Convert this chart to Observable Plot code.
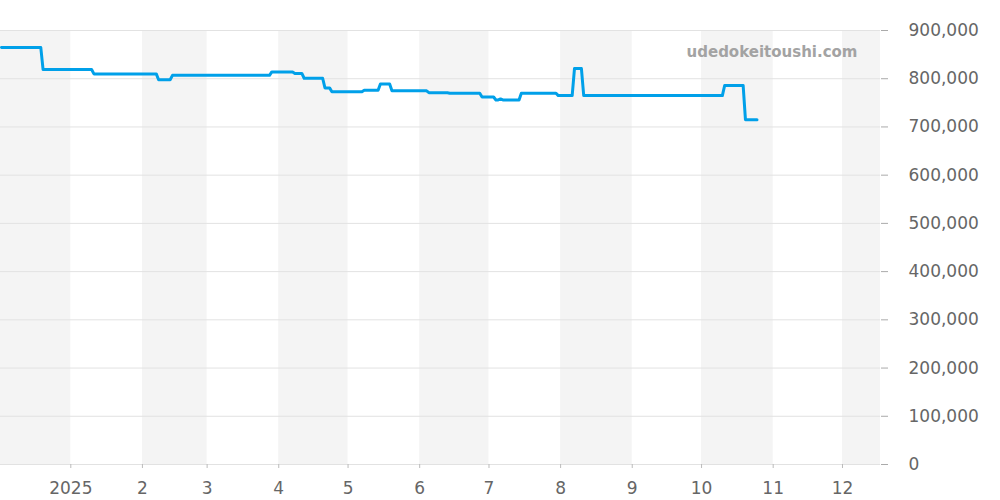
<!DOCTYPE html>
<html>
<head>
<meta charset="utf-8">
<script src="https://cdn.jsdelivr.net/npm/d3@7"></script>
<script src="https://cdn.jsdelivr.net/npm/@observablehq/plot@0.6"></script>
<style>
  html, body { margin: 0; padding: 0; background: #fff; }
  #chart { width: 1000px; height: 500px; }
</style>
</head>
<body>
<div id="chart"></div>
<script>
// ---- data ----
const dates = [
  "2024-12-02","2024-12-19","2024-12-20","2025-01-10","2025-01-11","2025-02-07",
  "2025-02-08","2025-02-13","2025-02-14","2025-03-28","2025-03-29","2025-04-07",
  "2025-04-08","2025-04-11","2025-04-12","2025-04-20","2025-04-21","2025-04-23",
  "2025-04-24","2025-05-07","2025-05-08","2025-05-14","2025-05-15","2025-05-19",
  "2025-05-20","2025-06-04","2025-06-05","2025-06-13","2025-06-14","2025-06-27",
  "2025-06-28","2025-07-03","2025-07-04","2025-07-05","2025-07-06","2025-07-07",
  "2025-07-14","2025-07-15","2025-07-30","2025-07-31","2025-08-06","2025-08-07",
  "2025-08-10","2025-08-11","2025-10-10","2025-10-11","2025-10-19","2025-10-20",
  "2025-10-25"
];
const prices = [
  865000,865000,819000,819000,810000,810000,
  798000,798000,807000,807000,814000,814000,
  811000,811000,801000,801000,781000,781000,
  773000,773000,776000,776000,789000,789000,
  775000,775000,771000,771000,770000,770000,
  762000,762000,756000,756000,758000,756000,
  756000,770000,770000,765000,765000,821000,
  821000,765000,765000,786000,786000,715000,
  715000
];
const shadeStarts = ["2024-12-01","2025-02-01","2025-04-01","2025-06-01","2025-08-01","2025-10-01","2025-12-01"];
const shadeEnds   = ["2025-01-01","2025-03-01","2025-05-01","2025-07-01","2025-09-01","2025-11-01","2026-01-01"];
const xTickDates = ["2025-01-01","2025-02-01","2025-03-01","2025-04-01","2025-05-01","2025-06-01",
                    "2025-07-01","2025-08-01","2025-09-01","2025-10-01","2025-11-01","2025-12-01"];
const xTickLabels = ["2025","2","3","4","5","6","7","8","9","10","11","12"];
const yTicks = [0,100000,200000,300000,400000,500000,600000,700000,800000,900000];
const xDomain = ["2024-12-01T13:40:00Z","2025-12-17T10:50:00Z"];
const watermark = "udedokeitoushi.com";

// ---- build ----
const series = dates.map((d, i) => ({date: new Date(d + "T00:00:00Z"), price: prices[i]}));
const bands = shadeStarts.map((s, i) => ({x1: new Date(s + "T00:00:00Z"), x2: new Date(shadeEnds[i] + "T00:00:00Z")}));
const xt = xTickDates.map(d => new Date(d + "T00:00:00Z"));
const labelOf = new Map(xt.map((d, i) => [+d, xTickLabels[i]]));

const chart = Plot.plot({
  width: 1000,
  height: 500,
  marginLeft: 0,
  marginRight: 120,
  marginTop: 30,
  marginBottom: 36,
  style: {fontFamily: "'DejaVu Sans', sans-serif", fontSize: "17px", background: "#fff", overflow: "visible"},
  x: {type: "utc", domain: xDomain.map(d => new Date(d))},
  y: {domain: [0, 900000]},
  marks: [
    Plot.rect(bands, {x1: "x1", x2: "x2", fill: "#f4f4f4", clip: true}),
    Plot.ruleY(yTicks, {stroke: "#e2e2e2", strokeWidth: 1}),
    Plot.axisY(yTicks, {anchor: "right", tickSize: 7, tickPadding: 21, tickFormat: d3.format(","),
      stroke: "#aaa", fill: "#666", fontSize: 17, line: true, label: null}),
    Plot.axisX(xt, {anchor: "bottom", tickSize: 4, tickPadding: 13, tickFormat: d => labelOf.get(+d),
      stroke: "#bbb", fill: "#666", fontSize: 17, line: true, label: null}),
    Plot.line(series, {x: "date", y: "price", stroke: "#00a0e9", strokeWidth: 3, strokeLinejoin: "round"}),
    Plot.text([watermark], {frameAnchor: "top-right", textAnchor: "end", lineAnchor: "middle",
      dx: -23, dy: 22, fill: "#a3a3a3", fontSize: 15, fontWeight: "bold"})
  ]
});
document.getElementById("chart").append(chart);
</script>
</body>
</html>
